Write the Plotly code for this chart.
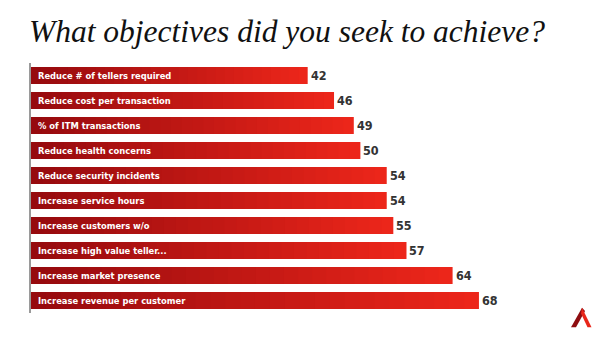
import plotly.graph_objects as go

categories = [
    "Reduce # of tellers required",
    "Reduce cost per transaction",
    "% of ITM transactions",
    "Reduce health concerns",
    "Reduce security incidents",
    "Increase service hours",
    "Increase customers w/o",
    "Increase high value teller...",
    "Increase market presence",
    "Increase revenue per customer",
]
values = [42, 46, 49, 50, 54, 54, 55, 57, 64, 68]

DARK = (150, 10, 14)
BRIGHT = (236, 38, 26)
N = 30
NARROW = "'DejaVu Sans Condensed', sans-serif"

def mix(t):
    return "rgb(%d,%d,%d)" % tuple(round(BRIGHT[i] + (DARK[i] - BRIGHT[i]) * t) for i in range(3))

fig = go.Figure()
for k in range(N):
    frac = (N - k) / N
    fig.add_trace(go.Bar(
        x=[v * frac for v in values], y=categories, orientation="h",
        marker=dict(color=mix(k / (N - 1)), line=dict(width=0)),
        width=0.68, hoverinfo="skip", showlegend=False,
    ))

for c, v in zip(categories, values):
    fig.add_annotation(
        x=v, y=c, xref="x", yref="y", text="<b>%d</b>" % v, showarrow=False,
        xanchor="left", xshift=1,
        font=dict(family=NARROW, size=12.5, color="#333333"),
    )
    fig.add_annotation(
        x=0, y=c, xref="x", yref="y", text="<b>%s</b>" % c, showarrow=False,
        xanchor="left", xshift=5,
        font=dict(family=NARROW, size=9.3, color="white"),
    )

fig.add_annotation(
    x=(27 - 31) / 527, y=(313 - 32) / 250, xref="paper", yref="paper",
    text="What objectives did you seek to achieve?", showarrow=False,
    xanchor="left", yanchor="middle",
    font=dict(family="Liberation Serif", size=31.5, color="#111111", style="italic"),
)

fig.add_shape(type="path", xref="paper", yref="paper",
              path="M 1.0247 -0.057 L 1.0456 0.021 L 1.0513 0.008 L 1.0342 -0.057 Z",
              fillcolor="#8e0c10", line=dict(width=0))
fig.add_shape(type="path", xref="paper", yref="paper",
              path="M 1.0456 0.021 L 1.0636 -0.057 L 1.0560 -0.057 L 1.0437 -0.002 Z",
              fillcolor="#e8261a", line=dict(width=0))

fig.update_layout(
    width=600, height=338,
    margin=dict(l=31, r=42, t=63, b=25),
    paper_bgcolor="white", plot_bgcolor="white",
    barmode="overlay", bargap=0.32,
    xaxis=dict(range=[0, 80], visible=False),
    yaxis=dict(autorange="reversed", showticklabels=False, ticks="",
               showline=True, linecolor="#9a9a9a", linewidth=1.5, showgrid=False,
               zeroline=False),
)

fig.write_html("out.html")
